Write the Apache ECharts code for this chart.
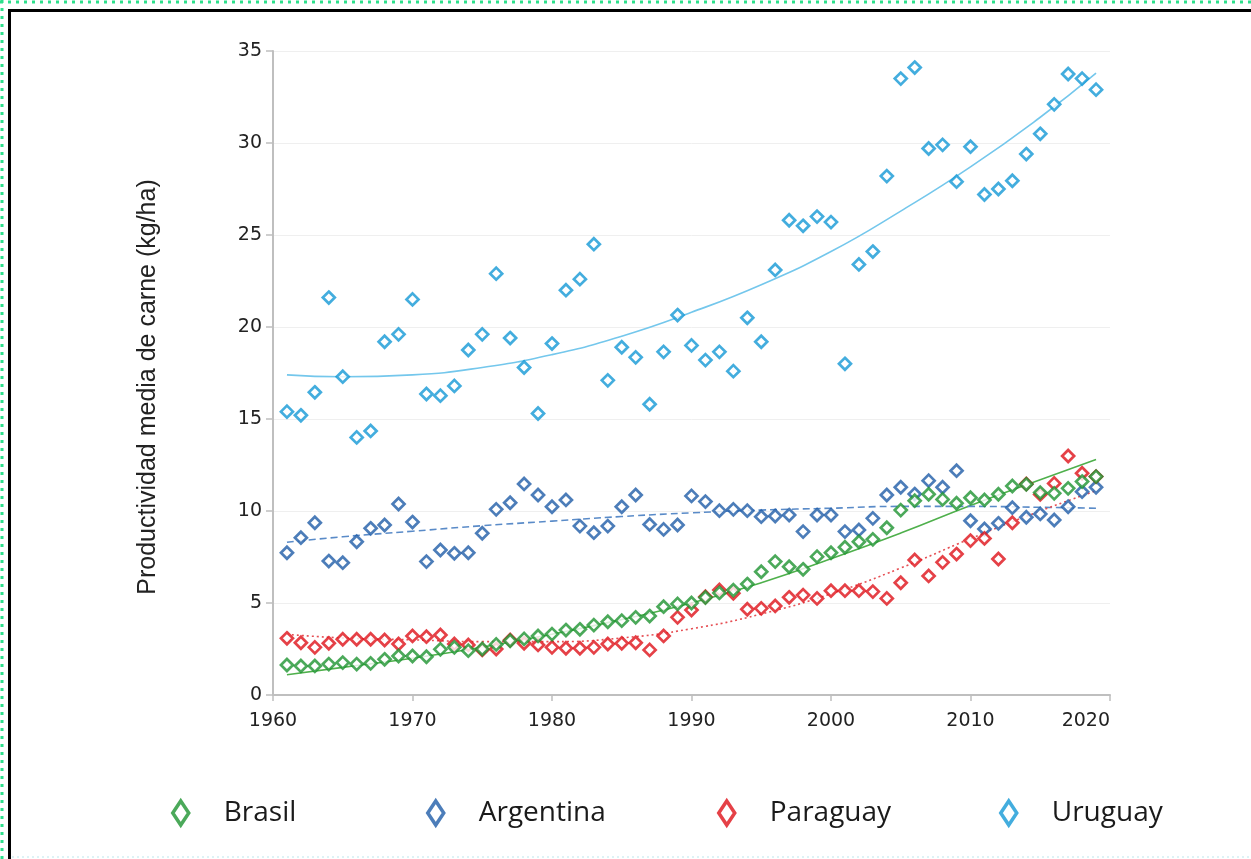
<!DOCTYPE html>
<html>
<head>
<meta charset="utf-8">
<script src="https://cdn.jsdelivr.net/npm/echarts@6/dist/echarts.min.js"></script>
<style>
html,body{margin:0;padding:0;background:#fff;}
#chart{width:1251px;height:859px;}
</style>
</head>
<body>
<div id="chart"></div>
<script>
// ---- data ----
const years = [1961,1962,1963,1964,1965,1966,1967,1968,1969,1970,
  1971,1972,1973,1974,1975,1976,1977,1978,1979,1980,
  1981,1982,1983,1984,1985,1986,1987,1988,1989,1990,
  1991,1992,1993,1994,1995,1996,1997,1998,1999,2000,
  2001,2002,2003,2004,2005,2006,2007,2008,2009,2010,
  2011,2012,2013,2014,2015,2016,2017,2018,2019];

const brasil = [1.63,1.58,1.58,1.68,1.76,1.68,1.72,1.94,2.12,2.12,
  2.08,2.48,2.59,2.41,2.5,2.75,2.95,3.05,3.21,3.31,
  3.53,3.57,3.80,3.98,4.04,4.22,4.29,4.80,4.95,5.0,
  5.3,5.55,5.7,6.03,6.70,7.25,6.97,6.83,7.52,7.73,
  8.03,8.33,8.46,9.09,10.05,10.56,10.91,10.63,10.42,10.72,
  10.60,10.91,11.36,11.45,11.0,10.96,11.23,11.6,11.87];

const argentina = [7.73,8.55,9.36,7.28,7.19,8.33,9.06,9.24,10.38,9.40,
  7.25,7.88,7.70,7.73,8.79,10.09,10.45,11.47,10.87,10.23,
  10.60,9.18,8.82,9.18,10.23,10.87,9.27,9.0,9.24,10.82,
  10.51,10.02,10.09,10.02,9.69,9.73,9.78,8.88,9.78,9.78,
  8.88,8.97,9.60,10.87,11.29,10.92,11.65,11.29,12.19,9.47,
  9.02,9.33,10.18,9.66,9.84,9.51,10.23,11.05,11.29];

const paraguay = [3.08,2.84,2.59,2.81,3.03,3.03,3.03,2.99,2.77,3.21,
  3.17,3.26,2.77,2.72,2.45,2.5,2.99,2.81,2.72,2.59,
  2.54,2.54,2.59,2.77,2.81,2.84,2.45,3.21,4.22,4.62,
  5.34,5.71,5.53,4.66,4.71,4.84,5.31,5.43,5.25,5.67,
  5.67,5.67,5.62,5.25,6.10,7.34,6.47,7.21,7.66,8.39,
  8.51,7.39,9.36,11.47,10.9,11.5,12.99,12.05,11.87];

const uruguay = [15.4,15.2,16.45,21.6,17.3,14.0,14.35,19.2,19.6,21.5,
  16.36,16.27,16.8,18.75,19.6,22.9,19.4,17.8,15.3,19.1,
  22.0,22.6,24.5,17.1,18.9,18.35,15.8,18.65,20.65,19.0,
  18.2,18.65,17.6,20.5,19.2,23.1,25.8,25.5,26.0,25.7,
  18.0,23.4,24.1,28.2,33.5,34.1,29.7,29.9,27.9,29.8,
  27.2,27.5,27.95,29.4,30.5,32.1,33.75,33.5,32.9];

// trend lines
const trendYears = [1961,1965,1970,1975,1980,1985,1990,1995,2000,2005,2010,2015,2019];
const brasilTrend    = [1.1,1.5,2.0,2.6,3.3,4.1,5.0,6.1,7.4,8.8,10.3,11.7,12.8];
const argentinaTrend = [8.3,8.6,8.9,9.2,9.45,9.7,9.9,10.05,10.15,10.25,10.25,10.2,10.15];
const paraguayTrend  = [3.3,3.1,3.0,2.9,2.9,3.1,3.6,4.4,5.5,6.9,8.5,10.0,11.1];
const uruguayTrend   = [17.4,17.3,17.4,17.8,18.5,19.5,20.8,22.3,24.1,26.3,28.7,31.4,33.8];

const xTicks = [1960,1970,1980,1990,2000,2010,2020];
const yTicks = [0,5,10,15,20,25,30,35];
const seriesNames = ['Brasil','Argentina','Paraguay','Uruguay'];

// ---- styles ----
const markerColors = {Brasil:'#1E9431', Argentina:'#1F5DA8', Paraguay:'#DE1219', Uruguay:'#1499D6'};
const trendColors  = {Brasil:'#4FB04C', Argentina:'#5A8BC8', Paraguay:'#E64F54', Uruguay:'#74C7EC'};
const trendTypes   = {Brasil:'solid', Argentina:[7,4], Paraguay:[2,3], Uruguay:'solid'};

const values = {Brasil:brasil, Argentina:argentina, Paraguay:paraguay, Uruguay:uruguay};
const trends = {Brasil:brasilTrend, Argentina:argentinaTrend, Paraguay:paraguayTrend, Uruguay:uruguayTrend};

const series = [];
seriesNames.forEach(n => {
  series.push({
    name: n + ' trend', type: 'line', smooth: true, showSymbol: false, silent: true,
    data: trendYears.map((y,i)=>[y, trends[n][i]]),
    lineStyle: {color: trendColors[n], width: 1.6, type: trendTypes[n]},
    z: 1
  });
});
['Uruguay','Argentina','Paraguay','Brasil'].forEach(n => {
  series.push({
    name: n, type: 'scatter', symbol: 'diamond', symbolSize: [12,12],
    data: years.map((y,i)=>[y, values[n][i]]),
    itemStyle: {color: '#ffffff', borderColor: markerColors[n], borderWidth: 2.7},
    z: 3
  });
});

const legendLefts = [166, 421, 712, 994];
const legends = seriesNames.map((n,i)=>({
  data: [n], left: legendLefts[i], top: 794, orient: 'horizontal',
  icon: 'diamond', itemWidth: 16, itemHeight: 24,
  itemStyle: {borderWidth: 3.5},
  textStyle: {fontFamily: 'Open Sans', fontSize: 28, color: '#1a1a1a', padding: [0,0,0,30]},
  selectedMode: false
}));

const chart = echarts.init(document.getElementById('chart'), null, {renderer:'canvas'});
chart.setOption({
  backgroundColor: '#ffffff',
  animation: false,
  legend: legends,
  grid: {left: 273, top: 51, right: 141, bottom: 164, containLabel: false},
  xAxis: {
    type: 'value', min: xTicks[0], max: xTicks[xTicks.length-1], interval: 10,
    axisLine: {show: true, lineStyle: {color: '#BFBFBF', width: 2}},
    axisTick: {show: true, length: 6, lineStyle: {color: '#BFBFBF', width: 1.5}},
    splitLine: {show: false},
    axisLabel: {formatter: v => String(v), fontFamily: 'DejaVu Sans', fontSize: 19, color: '#222', margin: 17, alignMaxLabel: 'right'}
  },
  yAxis: {
    type: 'value', min: yTicks[0], max: yTicks[yTicks.length-1], interval: 5,
    name: 'Productividad media de carne (kg/ha)', nameLocation: 'middle', nameGap: 112,
    nameTextStyle: {fontFamily: 'Liberation Sans', fontSize: 25, color: '#222', padding: [0,28,0,0]},
    axisLine: {show: true, lineStyle: {color: '#BFBFBF', width: 2}},
    axisTick: {show: true, inside: false, length: 7, lineStyle: {color: '#BFBFBF', width: 1.5}},
    splitLine: {show: true, lineStyle: {color: '#EFEFEF', width: 1}},
    axisLabel: {fontFamily: 'DejaVu Sans', fontSize: 19, color: '#222', margin: 11}
  },
  graphic: [
    {type:'line', shape:{x1:0,y1:2,x2:1251,y2:2}, style:{stroke:'#2DE08C', lineWidth:3, lineDash:[3,5]}, silent:true},
    {type:'line', shape:{x1:2,y1:0,x2:2,y2:859}, style:{stroke:'#2DE08C', lineWidth:3, lineDash:[3,5]}, silent:true},
    {type:'line', shape:{x1:9,y1:10.5,x2:1251,y2:10.5}, style:{stroke:'#000', lineWidth:3}, silent:true},
    {type:'line', shape:{x1:9.5,y1:9,x2:9.5,y2:859}, style:{stroke:'#000', lineWidth:3}, silent:true},
    {type:'line', shape:{x1:12,y1:857,x2:1251,y2:857}, style:{stroke:'#DDF3F6', lineWidth:2, lineDash:[2,3]}, silent:true}
  ],
  series: series
});
</script>
</body>
</html>
